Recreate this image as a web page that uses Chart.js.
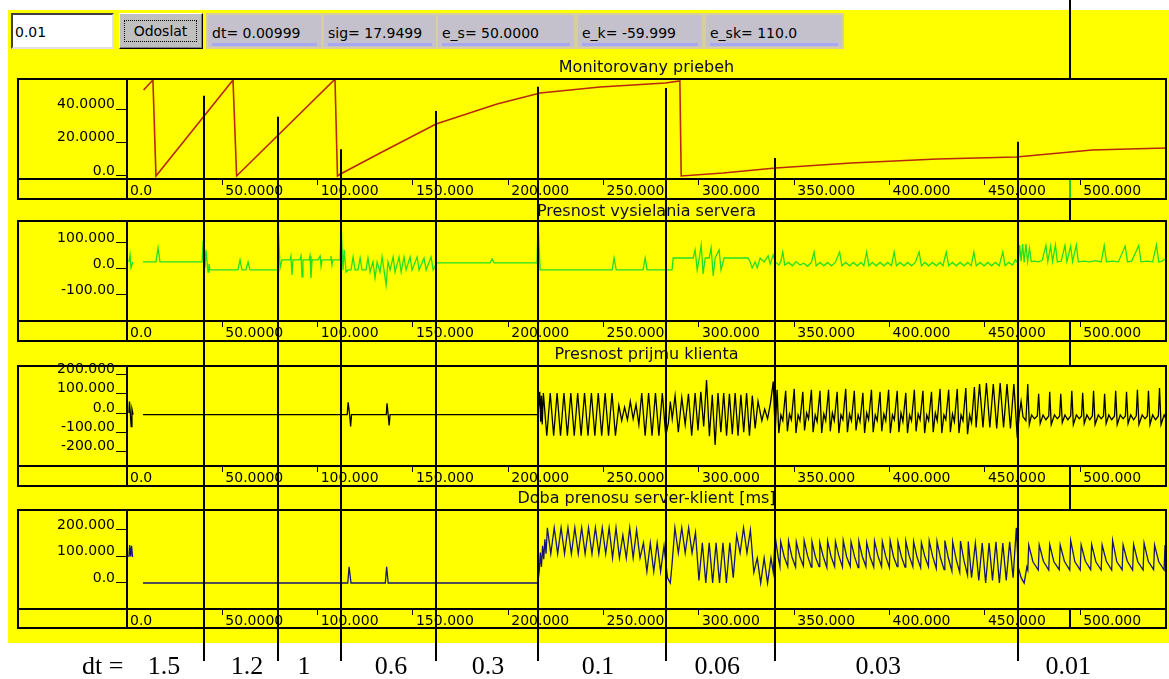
<!DOCTYPE html>
<html lang="sk">
<head>
<meta charset="utf-8">
<title>Monitorovany priebeh</title>
<script src="https://cdn.jsdelivr.net/npm/chart.js@4.4.1/dist/chart.umd.min.js"></script>
<style>
  body { margin: 0; width: 1169px; height: 679px; position: relative; overflow: hidden; background: #fff; font-family: 'DejaVu Sans', sans-serif; }
  .zlta { position: absolute; left: 8px; top: 10px; width: 1161px; height: 633px; background: #ffff00; }
  .graf { position: absolute; left: 17px; }
  .graf canvas { display: block; }
  .vstup { position: absolute; left: 11px; top: 13px; width: 97px; height: 32px; background: #fff; border: 2px solid; border-color: #404040 #e0e0e0 #e0e0e0 #404040; font-size: 14px; line-height: 34px; padding-left: 2px; z-index: 2; }
  .tlacidlo { position: absolute; left: 119px; top: 13px; width: 82px; height: 34px; background: #c0c0c0; border: 1px solid #000; border-color: #fff #000 #000 #fff; box-shadow: inset -1px -1px 0 #808080; z-index: 2; }
  .tlacidlo span { position: absolute; left: 4px; top: 6px; right: 5px; bottom: 6px; border: 1px dotted #000; font-size: 14px; line-height: 20px; text-align: center; }
  .stitok { position: absolute; top: 13px; height: 32px; background: #c4c0cc; border: 2px solid #d6cf9a; font-size: 14px; line-height: 36px; padding-left: 4px; box-sizing: content-box; z-index: 2; }
  .stitok i { position: absolute; left: 4px; right: 4px; top: 28px; height: 3px; background: #a8a8f0; }
  .dt { position: absolute; left: 82px; top: 651px; font-family: 'Liberation Serif', serif; font-size: 26px; line-height: 30px; color: #000; }
</style>
</head>
<body>
<div class="zlta"></div>

<div class="vstup">0.01</div>
<div class="tlacidlo"><span>Odoslat</span></div>
<div class="stitok" style="left:206px;width:109px">dt= 0.00999<i></i></div>
<div class="stitok" style="left:322px;width:108px">sig= 17.9499<i></i></div>
<div class="stitok" style="left:436px;width:132px">e_s= 50.0000<i></i></div>
<div class="stitok" style="left:576px;width:120px">e_k= -59.999<i></i></div>
<div class="stitok" style="left:704px;width:132px">e_sk= 110.0<i></i></div>

<div class="graf" style="top:0"><canvas id="graf-monitor" width="1151" height="200"></canvas></div>
<div class="graf" style="top:200px"><canvas id="graf-server" width="1151" height="142"></canvas></div>
<div class="graf" style="top:342px"><canvas id="graf-klient" width="1151" height="145"></canvas></div>
<div class="graf" style="top:487px"><canvas id="graf-prenos" width="1151" height="142"></canvas></div>
<div class="graf" style="top:629px"><canvas id="graf-dt" width="1151" height="50"></canvas></div>
<div class="dt">dt =</div>

<script>
// os x je spolocna pre vsetky styri grafy
const xTicks = [0, 50, 100, 150, 200, 250, 300, 350, 400, 450, 500];
const xPopisy = ['0.0', '50.0000', '100.000', '150.000', '200.000', '250.000', '300.000', '350.000', '400.000', '450.000', '500.000'];

// hranice, kde sa menil krok dt (zvisle ciary cez cely obrazok)
const dtHranice = [40.4, 79.2, 112.3, 162.1, 215.6, 282.8, 340, 467.5];
// v hornom grafe kazda ciara zacina v inej vyske
const dtZaciatky = [48, 35.5, 16, 39, 53.5, 52.7, 10.8, 20.5];
const dtSkryta = 494.8;
const dtHodnoty = ['1.5', '1.2', '1', '0.6', '0.3', '0.1', '0.06', '0.03', '0.01'];
const dtStredy = [19.4, 63, 92.9, 138.5, 189.4, 247.1, 309.6, 394, 493.7];

// Monitorovany priebeh
const monitorTicks = [40, 20, 0];
const monitorPopisy = ['40.0000', '20.0000', '0.0'];
const monitorBody = [
  [8.7, 51.5], [13.6, 57.5], [15.2, 0], [55.6, 57.5], [57.5, 0], [109.1, 58], [110.4, 0],
  [112, 1.2], [133.8, 14.4], [162.1, 31.1], [194.1, 43.1], [216.7, 49.7], [248.2, 53.3],
  [282.3, 55.7], [290, 57], [290.7, 0], [312.7, 1.8], [340.2, 4.8], [379.9, 7.8],
  [425, 10.2], [466.4, 11.4], [506.3, 15.6], [545, 16.8]
];

// Presnost vysielania servera
const serverTicks = [100, 0, -100];
const serverPopisy = ['100.000', '0.0', '-100.00'];
const serverZaciatok = [[1.0, 27], [1.6, 54], [2.1, 4], [3.1, 27]];
const serverBody = [
  [8.4, 27], [15.2, 27], [16.3, 81], [17.3, 27], [39.4, 27], [39.9, 108], [40.9, 4], [41.4, 73],
  [42.5, -12], [43, 19], [43.5, -4], [58.2, -4], [59.3, 35], [60.3, -4], [62.4, -4], [63.5, 27],
  [64.5, -4], [78.7, -4], [79.2, 180], [80.3, 4], [81.3, 35], [85.5, 35], [86, 50], [86.5, -23],
  [87.1, 35], [90.7, 35], [91.3, 50], [91.8, -30], [92.3, 35], [95.5, 35], [96, 50], [96.5, -35],
  [97.1, 35], [100.2, 35], [101.3, 50], [101.8, 10], [102.3, 35], [106.5, 35], [107, 50], [107.5, 15],
  [108, 35], [111.8, 35], [112.3, 173], [113.3, -4], [113.9, 73], [114.9, -12], [116, -4], [117.5, -4],
  [118.6, 46], [119.6, -4], [121.2, -4], [122.3, 42], [123.3, -4], [125.4, -4], [126.4, 42], [127.5, -12],
  [129, 27], [130.1, -35], [131.2, 27], [132.7, -12], [133.8, 46], [134.8, -4], [135.9, -62], [136.9, 27],
  [138, -4], [139.6, 46], [140.6, -12], [142.7, 46], [143.8, -12], [145.3, 46], [146.4, -4], [148.5, 46],
  [149.5, -4], [152.2, 46], [153.2, -4], [155.8, 42], [156.9, -4], [159.5, 46], [160.6, -4], [162.6, 23],
  [190.5, 23], [191.5, 38], [192.6, 23], [215.1, 23], [215.6, 180], [216.7, -4], [254.5, -4], [255.5, 42],
  [256.6, -4], [270.7, -4], [271.8, 42], [272.8, -4], [285.9, -4], [286.5, 42], [297, 42], [298, 73],
  [299.1, -4], [300.2, 42], [301.2, 92], [302.2, -19], [303.3, 42], [305.4, 42], [306.4, 81], [307.5, -27],
  [308.5, 42], [310.6, 73], [311.6, -4], [313.2, 42], [325.8, 42], [326.9, 27], [327.9, 4], [329.5, 27],
  [330.6, 4], [332.1, 42], [334.2, 27], [336.3, 50], [337.4, 19], [338.9, 54], [340, 27],
  [342, 15], [343, 30], [344, 65], [345, 15], [347, 25], [349, 12], [351, 28], [353, 15], [355, 22],
  [357, 10], [359, 25], [360.4, 65], [361.5, 12], [363.5, 25], [365.5, 12], [367.5, 25], [369.5, 12],
  [371.5, 25], [373.8, 65], [375, 12], [377, 25], [379, 12], [381, 25], [383, 12], [385, 25], [386.5, 12],
  [388, 65], [389.2, 12], [391, 25], [393, 12], [395, 25], [397, 12], [399, 25], [401, 12], [402.4, 65],
  [403.6, 12], [405.5, 25], [407.5, 12], [409.5, 25], [411.5, 12], [413.5, 25], [415.5, 65], [416.7, 12],
  [418.5, 25], [420.5, 12], [422.5, 25], [424.5, 12], [426.5, 25], [428, 12], [429.7, 65], [431, 12],
  [433, 25], [435, 12], [437, 25], [439, 12], [441, 25], [442.8, 12], [444.2, 65], [445.5, 12], [447.5, 25],
  [449.5, 12], [451.5, 25], [453.5, 12], [455.5, 25], [457.5, 12], [459.4, 65], [460.6, 12], [462.5, 25],
  [464.5, 15], [466, 35], [467.5, 20],
  [468.2, 92], [469, 30], [469.8, 95], [470.6, 25], [471.5, 96], [472.4, 28], [473.4, 80], [474.3, 28],
  [476, 30], [478, 27], [480, 32], [482, 90], [483, 28], [484.5, 88], [485.5, 28], [487, 92], [488, 27],
  [490, 30], [492, 90], [493, 28], [495, 88], [496, 28], [498, 92], [499, 27], [502, 30], [505, 27],
  [508, 32], [511, 27], [512.6, 90], [513.8, 27], [517, 30], [520, 27], [523.6, 88], [524.8, 27],
  [527, 30], [530.7, 90], [531.9, 27], [535, 30], [538, 27], [540, 92], [541.2, 27], [543, 30], [545, 40]
];

// Presnost prijmu klienta
const klientTicks = [200, 100, 0, -100, -200];
const klientPopisy = ['200.000', '100.000', '0.0', '-100.00', '-200.00'];
const klientZaciatok = [[1.0, 0], [1.3, 60], [1.8, -10], [2.2, -70], [2.6, 20], [3.2, -8]];
const klientBody = [
  [8.4, -8], [115.5, -8], [116, 55], [116.8, -10], [117.3, -70], [117.8, -8], [136, -8], [136.4, 50],
  [137, -10], [137.5, -65], [138, -8], [215.5, -8],
  [216, 40], [216.5, 110], [217, -45], [217.4, 90], [217.8, -60],
  [218.4, 104], [220.2, -118], [222, 104], [223.8, -118], [225.6, 104], [227.4, -118], [229.2, 104],
  [231, -118], [232.8, 104], [234.6, -118], [236.4, 104], [238.2, -118], [240, 104], [241.8, -118],
  [243.6, 104], [245.4, -118], [247.2, 104], [249, -118], [250.8, 104], [252.6, -118], [254.4, 104],
  [256.2, -118],
  [258, 40], [259.5, -40], [261, 30], [262.5, -35], [264, 60], [265.5, -30], [267, 45], [268.5, -60],
  [270, 104], [271.8, -118], [273.6, 104], [275.4, -118], [277.2, 104], [279, -118], [280.8, 104],
  [282.6, -118],
  [284, -50], [285, 60], [286, -30], [287.5, 90], [289.2, -100], [291, 80], [292.8, -60], [294.5, 100],
  [296.2, -118], [298, 104], [299.5, -90], [301, 110], [302.5, -70], [304, 171], [305.5, -120], [307, 95],
  [308.5, -166], [310, 104], [311.5, -100], [313, 104], [314.5, -118], [316, 100], [317.5, -110],
  [319, 104], [320.5, -118], [322, 95], [323.5, -100], [325, 104], [326.5, -118], [328, 90], [329.5, -80],
  [331, 60], [333, -40], [334.5, 20], [336, -30], [337.5, 50], [339, 163], [340, -100],
  [341, 120], [341.9, -104], [343, -10], [344, -40], [345.5, 115], [346.4, -95], [347.5, -5], [348.5, -35],
  [350, 125], [350.9, -104], [352, -10], [353, -40], [354.5, 110], [355.4, -90], [356.5, 0], [357.5, -30],
  [359, 120], [359.9, -100], [361, -10], [362, -45], [363.5, 115], [364.4, -104], [365.5, -5], [366.5, -40],
  [368, 120], [368.9, -95], [370, 0], [371, -40], [372.5, 110], [373.4, -104], [374.5, -10], [375.5, -35],
  [377, 125], [377.9, -100], [379, -5], [380, -40], [381.5, 115], [382.4, -90], [383.5, -10], [384.5, -45],
  [386, 105], [386.9, -104], [388, 0], [389, -35], [390.5, 120], [391.4, -100], [392.5, -10], [393.5, -40],
  [395, 110], [395.9, -95], [397, -5], [398, -40], [399.5, 120], [400.4, -104], [401.5, -10], [402.5, -35],
  [404, 115], [404.9, -100], [406, 0], [407, -45], [408.5, 105], [409.4, -104], [410.5, -10], [411.5, -40],
  [413, 120], [413.9, -95], [415, -5], [416, -35], [417.5, 115], [418.4, -104], [419.5, -10], [420.5, -40],
  [422, 110], [422.9, -100], [424, 0], [425, -40], [426.5, 125], [427.4, -104], [428.5, -10], [429.5, -35],
  [431, 120], [431.9, -100], [433, -5], [434, -45], [435.5, 125], [436.4, -104], [437.5, -10], [438.5, -40],
  [440, 130], [440.9, -110], [442, -10], [443, -50], [444.5, 135],
  [445.4, -75], [447.2, 150], [449, -75], [450.8, 155], [452.6, -75], [454.4, 150], [456.2, -80],
  [458, 155], [459.8, -75], [461.6, 150], [463.4, -80], [465.2, 150], [467, -130], [468, -10],
  [469, 60], [470, -20], [471.5, -40], [472.5, 150], [473.3, -60], [474.5, -10], [476, -30], [477.5, -15],
  [478.2, 100], [479, -55], [480.5, -10], [482, -35], [483.5, -15], [484, 110], [484.8, -60], [486.5, -10],
  [488, -30], [489.2, -15], [489.8, 100], [490.6, -50], [492, -10], [493.5, -35], [495, -15], [495.6, 115],
  [496.4, -60], [498, -10], [499.5, -30], [500.7, -15], [501.3, 105], [502.1, -55], [503.5, -10],
  [505, -35], [506.4, -15], [507, 115], [507.8, -60], [509.5, -10], [511, -30], [512.2, -15], [512.8, 100],
  [513.6, -55], [515, -10], [516.5, -35], [518, -15], [518.6, 115], [519.4, -60], [521, -10], [522.5, -30],
  [523.7, -15], [524.3, 110], [525.1, -55], [526.5, -10], [528, -35], [529.4, -15], [530, 120],
  [530.8, -60], [532.5, -10], [534, -30], [535.2, -15], [535.8, 115], [536.6, -60], [538, -10],
  [539.5, -35], [541, -15], [541.6, 130], [542.4, -60], [544, -10], [545, -30]
];

// Doba prenosu server-klient [ms]
const prenosTicks = [200, 100, 0];
const prenosPopisy = ['200.000', '100.000', '0.0'];
const prenosZaciatok = [[1.0, 98], [1.4, 143], [1.9, 100], [2.4, 140], [2.9, 98]];
const prenosBody = [
  [8.4, 0], [115.8, 0], [116.5, 61], [117.5, 0], [135.5, 0], [136.2, 61], [137, 0], [215.5, 0],
  [216.3, 50], [216.8, 115], [217.4, 60], [218, 140], [218.6, 90], [219.2, 165], [219.8, 110],
  [220.5, 208], [222.3, 110], [224.1, 208], [225.9, 110], [227.7, 208], [229.5, 110], [231.3, 208],
  [233.1, 110], [234.9, 208], [236.7, 110], [238.5, 208], [240.3, 110], [242.1, 208], [243.9, 110],
  [245.7, 208], [247.5, 110], [249.3, 208], [251.1, 110],
  [252.9, 208], [254.7, 94], [256.5, 208], [258.3, 94], [260.1, 180], [261.9, 94], [263.7, 208],
  [265.5, 94], [267.3, 200], [269.1, 94],
  [270.9, 151], [272.7, 43], [274.5, 151], [276.3, 43], [278.1, 151], [279.9, 43], [281.7, 140],
  [283.5, 20], [285, 0],
  [286, 80], [287.4, 208], [289.2, 113], [291, 208], [292.8, 113], [294.6, 208], [296.4, 113],
  [298.2, 190], [300, 10], [301.8, 151], [303.6, 0], [305.4, 151], [307.2, 0], [309, 151], [310.8, 0],
  [312.6, 151], [314.4, 0], [316.2, 151], [318, 20], [319.8, 180], [321.6, 113], [323.4, 208],
  [325.2, 113], [327, 200], [328.8, 40], [330.6, 94], [332.4, 0], [334.2, 94], [336, 0], [337.8, 94],
  [339, 40], [340, 175],
  [341.5, 100], [342.5, 62], [342.9, 156], [344.7, 100], [346.6, 62], [347, 158], [348.8, 98], [350.7, 60],
  [351.1, 155], [352.9, 100], [354.8, 64], [355.2, 160], [357, 102], [358.9, 60], [359.3, 156], [361.1, 98],
  [363, 62], [363.4, 152], [365.2, 100], [367.1, 58], [367.5, 158], [369.3, 100], [371.2, 62], [371.6, 156],
  [373.4, 102], [375.3, 60], [375.7, 160], [377.5, 98], [379.4, 62], [379.8, 155], [381.6, 100], [383.5, 58],
  [383.9, 157], [385.7, 100], [387.6, 62], [388, 152], [389.8, 98], [391.7, 60], [392.1, 158], [393.9, 102],
  [395.8, 62], [396.2, 156], [398, 100], [399.9, 58], [400.3, 160], [402.1, 98], [404, 62], [404.4, 155],
  [406.2, 100], [408.1, 60], [408.5, 158], [410.3, 102], [412.2, 62], [412.6, 156], [414.4, 98], [416.3, 58],
  [416.7, 152], [418.5, 100], [420.4, 62], [420.8, 158], [422.6, 100], [424.5, 55], [424.9, 156],
  [426.7, 95], [428.6, 50], [429, 160], [430.8, 95], [432.7, 45], [433.1, 155], [434.9, 90], [436.8, 40],
  [437.2, 158], [439, 85], [440.9, 30], [441.3, 156],
  [443, 20], [445, 150], [446.8, 10], [448.6, 150], [450.4, 0], [452.2, 150], [454, 10], [455.8, 155],
  [457.6, 0], [459.4, 150], [461.2, 10], [463, 155], [464.8, 20], [466.5, 208], [467.5, 60], [469, 20],
  [470.6, 0], [472, 60],
  [472.5, 49], [473, 143], [475.2, 80], [478, 49], [478.5, 143], [480.7, 82], [483.5, 49], [484, 145],
  [486.2, 80], [489, 50], [489.5, 143], [491.7, 82], [494.5, 49], [495, 160], [497.2, 80], [500, 49],
  [500.5, 143], [502.7, 82], [505.5, 50], [506, 145], [508.2, 80], [511, 49], [511.5, 143], [513.7, 82],
  [516.5, 49], [517, 160], [519.2, 80], [522, 50], [522.5, 143], [524.7, 82], [527.5, 49], [528, 145],
  [530.2, 80], [533, 49], [533.5, 150], [535.7, 82], [538.5, 50], [539, 143], [541.2, 80], [544, 49],
  [544.5, 143], [545, 120]
];

Chart.defaults.font.family = "'DejaVu Sans', sans-serif";
Chart.defaults.color = '#000';

const pismoOsi = { size: 14 };
const pismoNazvu = { size: 16, lineHeight: '14px', weight: 'normal' };

// zvisle ciary dt, idu cez vsetky platna zaradom
const dtCiaryPlugin = {
  id: 'dtCiary',
  afterDatasetsDraw(chart, args, opts) {
    const { ctx, chartArea, scales } = chart;
    const os = scales.x;
    const dole = opts.koniec || chart.height;
    ctx.save();
    ctx.strokeStyle = '#000';
    ctx.lineWidth = 2;
    dtHranice.forEach((hodnota, i) => {
      const px = Math.round(os.getPixelForValue(hodnota));
      const hore = opts.prvy ? scales.y.getPixelForValue(dtZaciatky[i]) : 0;
      ctx.beginPath();
      ctx.moveTo(px, hore);
      ctx.lineTo(px, dole);
      ctx.stroke();
    });
    if (opts.skryta) {
      // ciara pri 495 je vidno iba mimo plochy grafu
      const px = Math.round(os.getPixelForValue(dtSkryta));
      ctx.beginPath();
      ctx.moveTo(px, 0);
      ctx.lineTo(px, chartArea.top);
      ctx.stroke();
      ctx.strokeStyle = opts.prvy ? '#22cc22' : '#000';
      ctx.beginPath();
      ctx.moveTo(px, chartArea.bottom);
      ctx.lineTo(px, os.bottom);
      ctx.stroke();
      ctx.strokeStyle = '#000';
      ctx.beginPath();
      ctx.moveTo(px, os.bottom);
      ctx.lineTo(px, chart.height);
      ctx.stroke();
    }
    ctx.restore();
  }
};

// ramik okolo panelu: vonkajsi obdlznik, os y a os x
const ramikPlugin = {
  id: 'ramik',
  afterDraw(chart) {
    const { ctx, chartArea, scales } = chart;
    const spodok = scales.x.bottom;
    ctx.save();
    ctx.strokeStyle = '#000';
    ctx.lineWidth = 2;
    ctx.strokeRect(1, chartArea.top, chartArea.right - 1, spodok - chartArea.top);
    ctx.beginPath();
    ctx.moveTo(chartArea.left, chartArea.top);
    ctx.lineTo(chartArea.left, spodok);
    ctx.moveTo(1, chartArea.bottom);
    ctx.lineTo(chartArea.right, chartArea.bottom);
    ctx.stroke();
    ctx.restore();
  }
};

function body(pary) {
  return pary.map(([x, y]) => ({ x, y }));
}

function seria(pary, farba, hrubka = 1) {
  return { data: body(pary), borderColor: farba, borderWidth: hrubka, pointRadius: 0, tension: 0, fill: false };
}

function nakresliPanel(id, nastavenie) {
  const { nazov, titulHore, titulDole, min, max, ticks, popisy, vyskaOsi, serie, prvy, skryta } = nastavenie;
  return new Chart(document.getElementById(id), {
    type: 'line',
    data: { datasets: serie },
    plugins: [dtCiaryPlugin, ramikPlugin],
    options: {
      responsive: false,
      animation: false,
      devicePixelRatio: 1,
      layout: { padding: { left: 1, right: 2, top: 0, bottom: 1 } },
      plugins: {
        legend: { display: false },
        tooltip: { enabled: false },
        title: {
          display: true, text: nazov, fullSize: false, color: '#0b0b30',
          font: pismoNazvu, padding: { top: titulHore, bottom: titulDole }
        },
        dtCiary: { prvy: !!prvy, skryta: skryta !== false }
      },
      scales: {
        x: {
          type: 'linear', min: 0, max: 545,
          afterBuildTicks: (os) => { os.ticks = xTicks.map((value) => ({ value })); },
          afterFit: (os) => { os.height = vyskaOsi; },
          grid: { drawOnChartArea: false, drawTicks: true, tickLength: 6, color: '#000' },
          border: { display: false },
          ticks: {
            callback: (v, i) => xPopisy[i], align: 'start', labelOffset: 3, padding: -2,
            maxRotation: 0, minRotation: 0, autoSkip: false, font: pismoOsi, color: '#000'
          }
        },
        y: {
          min, max,
          afterBuildTicks: (os) => { os.ticks = ticks.map((value) => ({ value })); },
          afterFit: (os) => { os.width = 109; },
          grid: { drawOnChartArea: false, drawTicks: true, tickLength: 11, color: '#000' },
          border: { display: false },
          ticks: { callback: (v, i) => popisy[i], padding: 1, labelOffset: -5, font: pismoOsi, color: '#000' }
        }
      }
    }
  });
}

nakresliPanel('graf-monitor', {
  nazov: 'Monitorovany priebeh', titulHore: 61, titulDole: 4,
  min: -1.8, max: 58.1, ticks: monitorTicks, popisy: monitorPopisy, vyskaOsi: 20,
  serie: [seria(monitorBody, '#b8280a', 1.6)], prvy: true
});

nakresliPanel('graf-server', {
  nazov: 'Presnost vysielania servera', titulHore: 5, titulDole: 2,
  min: -200, max: 184, ticks: serverTicks, popisy: serverPopisy, vyskaOsi: 20,
  serie: [seria(serverZaciatok, '#22e022', 1.3), seria(serverBody, '#22e022', 1.3)]
});

nakresliPanel('graf-klient', {
  nazov: 'Presnost prijmu klienta', titulHore: 6, titulDole: 4,
  min: -275, max: 244, ticks: klientTicks, popisy: klientPopisy, vyskaOsi: 20,
  serie: [seria(klientZaciatok, '#000000', 1.3), seria(klientBody, '#000000', 1.3)]
});

nakresliPanel('graf-prenos', {
  nazov: 'Doba prenosu server-klient [ms]', titulHore: 5, titulDole: 4,
  min: -98, max: 275, ticks: prenosTicks, popisy: prenosPopisy, vyskaOsi: 19,
  serie: [seria(prenosZaciatok, '#14147a', 1.3), seria(prenosBody, '#14147a', 1.3)]
});

// spodny pas s hodnotami dt
new Chart(document.getElementById('graf-dt'), {
  type: 'line',
  data: { datasets: [] },
  plugins: [dtCiaryPlugin],
  options: {
    responsive: false,
    animation: false,
    devicePixelRatio: 1,
    layout: { padding: { left: 110, right: 2, top: 0, bottom: 0 } },
    plugins: {
      legend: { display: false },
      tooltip: { enabled: false },
      dtCiary: { prvy: false, skryta: false, koniec: 32 }
    },
    scales: {
      x: {
        type: 'linear', min: 0, max: 545,
        afterBuildTicks: (os) => { os.ticks = dtStredy.map((value) => ({ value })); },
        afterFit: (os) => { os.height = 27; },
        grid: { display: false, drawTicks: false },
        border: { display: false },
        ticks: {
          callback: (v, i) => dtHodnoty[i], padding: 0, maxRotation: 0, minRotation: 0, autoSkip: false,
          font: { family: "'Liberation Serif', serif", size: 26 }, color: '#000'
        }
      },
      y: { display: false, min: 0, max: 1 }
    }
  }
});
</script>
</body>
</html>
